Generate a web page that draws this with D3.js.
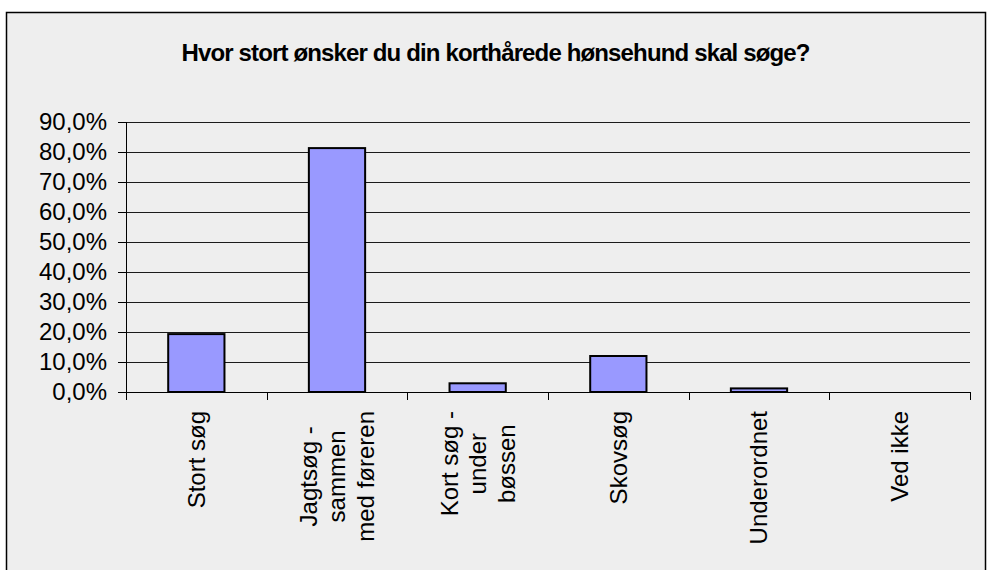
<!DOCTYPE html>
<html>
<head>
<meta charset="utf-8">
<script src="https://cdn.jsdelivr.net/npm/d3@7"></script>
<style>
  body { margin: 0; background: #fff; }
  svg text { font-family: "Liberation Sans", Arial, sans-serif; fill: #000; }
</style>
</head>
<body>
<script>
// data
var categoryLines = [
	["Stort søg"],
	["Jagtsøg -", "sammen", "med føreren"],
	["Kort søg -", "under", "bøssen"],
	["Skovsøg"],
	["Underordnet"],
	["Ved ikke"]
];
var values = [19.3, 81.3, 2.9, 12.0, 1.2, 0];
var yTicks = [0, 10, 20, 30, 40, 50, 60, 70, 80, 90];
var title = "Hvor stort ønsker du din korthårede hønsehund skal søge?";

var width = 989, height = 570;
var margin = {left: 126, right: 19, top: 122, bottom: 178};
var innerW = width - margin.left - margin.right;
var innerH = height - margin.top - margin.bottom;

var svg = d3.select("body").append("svg")
	.attr("width", width)
	.attr("height", height);

// chart frame
svg.append("rect")
	.attr("x", 6.5).attr("y", 12.5)
	.attr("width", 979).attr("height", 600)
	.attr("fill", "#eeeeee")
	.attr("stroke", "#000")
	.attr("stroke-width", 1.5);

svg.append("text")
	.attr("x", 496).attr("y", 61)
	.attr("text-anchor", "middle")
	.attr("font-size", 24)
	.attr("font-weight", "bold")
	.attr("textLength", 629)
	.attr("lengthAdjust", "spacing")
	.text(title);

var g = svg.append("g")
	.attr("transform", "translate(" + margin.left + "," + margin.top + ")");

var idx = d3.range(values.length);
var x = d3.scaleBand()
	.domain(idx)
	.range([0, innerW])
	.paddingInner(0.6)
	.paddingOuter(0.3);
var step = x.step();

var y = d3.scaleLinear()
	.domain([0, 90])
	.range([innerH, 0]);

// gridlines
g.selectAll(".grid")
	.data(yTicks.slice(1))
	.enter().append("line")
	.attr("class", "grid")
	.attr("x1", 0).attr("x2", innerW)
	.attr("y1", function(d) { return Math.round(y(d)) + 0.5; })
	.attr("y2", function(d) { return Math.round(y(d)) + 0.5; })
	.attr("stroke", "#1a1a1a")
	.attr("stroke-width", 1);

// y axis
var fmt = d3.format(".1f");
var yAxis = d3.axisLeft(y)
	.tickValues(yTicks)
	.tickSize(8)
	.tickPadding(11)
	.tickFormat(function(d) { return fmt(d).replace(".", ",") + "%"; });

var ya = g.append("g").call(yAxis);
ya.select(".domain").remove();
ya.selectAll(".tick line").attr("stroke", "#000");
ya.selectAll(".tick text")
	.attr("font-size", 24)
	.attr("font-family", "Liberation Sans, Arial, sans-serif")
	.attr("fill", "#000");
g.append("line")
	.attr("x1", 0.5).attr("x2", 0.5)
	.attr("y1", 0).attr("y2", innerH + 8)
	.attr("stroke", "#000");

// bars
g.selectAll(".bar")
	.data(values)
	.enter().append("rect")
	.attr("class", "bar")
	.attr("x", function(d, i) { return x(i); })
	.attr("y", function(d) { return y(d); })
	.attr("width", x.bandwidth())
	.attr("height", function(d) { return innerH - y(d); })
	.attr("fill", "#9999ff")
	.attr("stroke", "#000")
	.attr("stroke-width", 2);

// x axis line and boundary ticks
g.append("line")
	.attr("x1", 0).attr("x2", innerW)
	.attr("y1", innerH + 0.5).attr("y2", innerH + 0.5)
	.attr("stroke", "#000");
g.selectAll(".xtick")
	.data(d3.range(1, values.length + 1))
	.enter().append("line")
	.attr("class", "xtick")
	.attr("x1", function(d) { return Math.round(d * step) + 0.5; })
	.attr("x2", function(d) { return Math.round(d * step) + 0.5; })
	.attr("y1", innerH).attr("y2", innerH + 8)
	.attr("stroke", "#000");

// rotated category labels, lines centred on the longest one
var lineGap = 28.5;
categoryLines.forEach(function(lines, i) {
	var cx = x(i) + x.bandwidth() / 2;
	var lab = g.append("g")
		.attr("transform", "translate(" + cx + "," + (innerH + 19) + ") rotate(-90)");
	var texts = lab.selectAll("text")
		.data(lines)
		.enter().append("text")
		.attr("font-size", 24)
		.attr("text-anchor", "middle")
		.text(function(d) { return d; });
	var longest = d3.max(texts.nodes(), function(n) { return n.getComputedTextLength(); });
	var offset = (lines.length - 1) / 2;
	texts
		.attr("x", -longest / 2)
		.attr("y", function(d, j) { return (j - offset) * lineGap; })
		.attr("dy", "0.35em");
});
</script>
</body>
</html>
